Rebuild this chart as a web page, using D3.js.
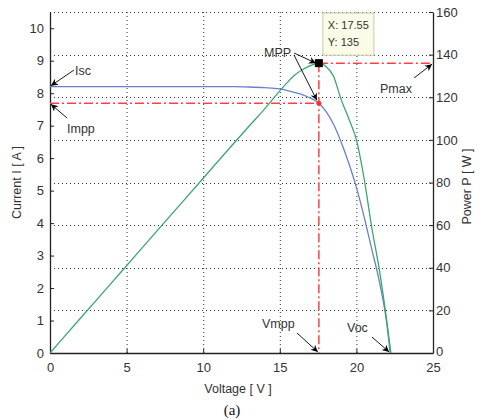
<!DOCTYPE html>
<html>
<head>
<meta charset="utf-8">
<script src="https://cdn.jsdelivr.net/npm/d3@7"></script>
<style>
  html, body { margin: 0; padding: 0; background: #fff; }
  svg { display: block; font-family: "Liberation Sans", Arial, sans-serif; }
</style>
</head>
<body>
<svg id="chart" width="484" height="420"></svg>
<script>
// ---- data ----
const voltageI = [0, 2, 4, 6, 8, 10, 12, 13, 14, 15, 15.5, 16, 16.5, 17, 17.55, 18, 18.5, 19, 19.5, 20, 20.5, 21, 21.5, 22, 22.2];
const current  = [8.2, 8.2, 8.2, 8.2, 8.2, 8.2, 8.2, 8.19, 8.17, 8.13, 8.08, 8.02, 7.95, 7.85, 7.69, 7.45, 7.05, 6.5, 5.85, 5.1, 4.2, 3.2, 2.2, 0.85, 0];
const voltageP = [0, 2, 4, 6, 8, 10, 12, 13, 14, 15, 15.5, 16, 16.5, 17, 17.55, 18, 18.5, 19, 19.5, 20, 20.5, 21, 21.5, 22, 22.25];
const power    = [0, 16.4, 32.8, 49.2, 65.6, 82, 98.4, 106.5, 114.4, 123, 127, 130.5, 133, 134.8, 136, 134.5, 130, 119, 110, 100, 82, 59, 39, 14, 0];
const xTicks = [0, 5, 10, 15, 20, 25];
const iTicks = [0, 1, 2, 3, 4, 5, 6, 7, 8, 9, 10];
const pTicks = [0, 20, 40, 60, 80, 100, 120, 140, 160];
const mpp = { v: 17.55, i: 7.69, p: 136 };
const isc = 8.2, voc = 22.2;
const tipLines = ["X: 17.55", "Y: 135"];

// ---- layout ----
const L = 50, R = 433, T = 12, B = 353;
const svg = d3.select("#chart");
const x = d3.scaleLinear().domain([0, 25]).range([L, R]);
const yI = d3.scaleLinear().domain([0, 10.5]).range([B, T]);
const yP = d3.scaleLinear().domain([0, 160]).range([B, T]);
const txt = "#333";

// arrow marker
const defs = svg.append("defs");
defs.append("marker").attr("id", "arr")
  .attr("viewBox", "0 0 10 10").attr("refX", 10).attr("refY", 5)
  .attr("markerWidth", 10).attr("markerHeight", 7)
  .attr("markerUnits", "userSpaceOnUse").attr("orient", "auto")
  .append("path").attr("d", "M0,0 L10,5 L0,10 L3,5 Z").attr("fill", "#000");

// grid
const grid = svg.append("g").attr("stroke", "#333").attr("stroke-width", 1).attr("stroke-dasharray", "1,3");
xTicks.filter(t => t > 0 && t < 25).forEach(t => {
  grid.append("line").attr("x1", x(t) + 0.5).attr("x2", x(t) + 0.5).attr("y1", B).attr("y2", T);
});
pTicks.filter(t => t > 0).forEach(t => {
  grid.append("line").attr("x1", L).attr("x2", R).attr("y1", Math.round(yP(t)) + 0.5).attr("y2", Math.round(yP(t)) + 0.5);
});

// axes
const axB = svg.append("g").attr("transform", `translate(0,${B})`)
  .call(d3.axisBottom(x).tickValues(xTicks).tickSize(-4).tickPadding(10).tickSizeOuter(0));
const axL = svg.append("g").attr("transform", `translate(${L},0)`)
  .call(d3.axisLeft(yI).tickValues(iTicks).tickSize(-4).tickPadding(6).tickSizeOuter(0));
const axR = svg.append("g").attr("transform", `translate(${R},0)`)
  .call(d3.axisRight(yP).tickValues(pTicks).tickSize(-4).tickPadding(3).tickSizeOuter(0));
[axB, axL, axR].forEach(a => {
  a.select(".domain").attr("stroke", "#222").attr("stroke-width", 1.3);
  a.selectAll(".tick line").attr("stroke", "#222");
  a.selectAll("text").attr("fill", txt).attr("font-size", 13)
    .attr("font-family", "'Liberation Sans', Arial, sans-serif");
});
axR.selectAll(".tick").filter(d => d === 0).select("text").attr("dy", "0.2em");

// curves
const lineI = d3.line().x((d, k) => x(voltageI[k])).y(d => yI(d)).curve(d3.curveMonotoneX);
const lineP = d3.line().x((d, k) => x(voltageP[k])).y(d => yP(d)).curve(d3.curveMonotoneX);
svg.append("path").attr("d", lineI(current)).attr("fill", "none").attr("stroke", "#6a80cc").attr("stroke-width", 1.3);
svg.append("path").attr("d", lineP(power)).attr("fill", "none").attr("stroke", "#3aa86c").attr("stroke-width", 1.3);

// red dash-dot guide lines
const red = svg.append("g").attr("stroke", "#ff4040").attr("stroke-width", 1.5).attr("stroke-dasharray", "9,3,2,3");
red.append("line").attr("x1", L).attr("x2", x(mpp.v)).attr("y1", yI(mpp.i)).attr("y2", yI(mpp.i));
red.append("line").attr("x1", x(mpp.v)).attr("x2", x(mpp.v)).attr("y1", yP(mpp.p)).attr("y2", B);
red.append("line").attr("x1", x(mpp.v)).attr("x2", R).attr("y1", yP(mpp.p)).attr("y2", yP(mpp.p));

// markers
svg.append("circle").attr("cx", x(mpp.v)).attr("cy", yI(mpp.i)).attr("r", 2.5).attr("fill", "#ff3030");
svg.append("rect").attr("x", x(mpp.v) - 4).attr("y", yP(mpp.p) - 4).attr("width", 8).attr("height", 8).attr("fill", "#000");

// datatip
const tipX = x(mpp.v) + 4, tipY = 13;
svg.append("rect").attr("x", tipX).attr("y", tipY).attr("width", 51).attr("height", yP(mpp.p) - 4 - tipY - 4)
  .attr("fill", "#fbfbe8").attr("stroke", "#c8c8b0").attr("stroke-width", 1);
tipLines.forEach((s, k) => {
  svg.append("text").attr("x", tipX + 5).attr("y", 29 + k * 17).attr("font-size", 11).attr("fill", txt).text(s);
});

// annotations
function arrow(x1, y1, x2, y2) {
  svg.append("line").attr("x1", x1).attr("y1", y1).attr("x2", x2).attr("y2", y2)
    .attr("stroke", "#000").attr("stroke-width", 0.9).attr("marker-end", "url(#arr)");
}
function label(s, xx, yy) {
  svg.append("text").attr("x", xx).attr("y", yy).attr("font-size", 12.5).attr("fill", txt).text(s);
}
label("Isc", 75, 75);
arrow(74, 70, x(0) + 1, yI(isc) - 1);
label("Impp", 67, 133);
arrow(67, 118, x(0) + 1, yI(mpp.i) + 1);
label("MPP", 264, 57);
arrow(294, 53, x(mpp.v) - 3, yP(mpp.p));
arrow(294, 55, x(mpp.v) - 2, yI(mpp.i) - 3);
label("Pmax", 380, 93);
arrow(414, 78, R - 1, yP(mpp.p) + 1);
label("Vmpp", 262, 328);
arrow(297, 333, x(mpp.v) - 1, B - 1);
label("Voc", 347, 332);
arrow(372, 337, x(voc) - 1, B - 1);

// axis titles
svg.append("text").attr("x", 238).attr("y", 393).attr("text-anchor", "middle")
  .attr("font-size", 12.5).attr("fill", txt).text("Voltage [ V ]");
svg.append("text").attr("transform", `translate(21,${(T + B) / 2}) rotate(-90)`).attr("text-anchor", "middle")
  .attr("font-size", 12.5).attr("fill", txt).text("Current I [ A ]");
svg.append("text").attr("transform", `translate(471,${(T + B) / 2 + 4}) rotate(-90)`).attr("text-anchor", "middle")
  .attr("font-size", 12.5).attr("fill", txt).text("Power P [ W ]");
svg.append("text").attr("x", 232).attr("y", 415).attr("text-anchor", "middle")
  .style("font-size", "15px").attr("fill", "#111").style("font-family", "'Liberation Serif', 'Times New Roman', serif").text("(a)");
</script>
</body>
</html>
